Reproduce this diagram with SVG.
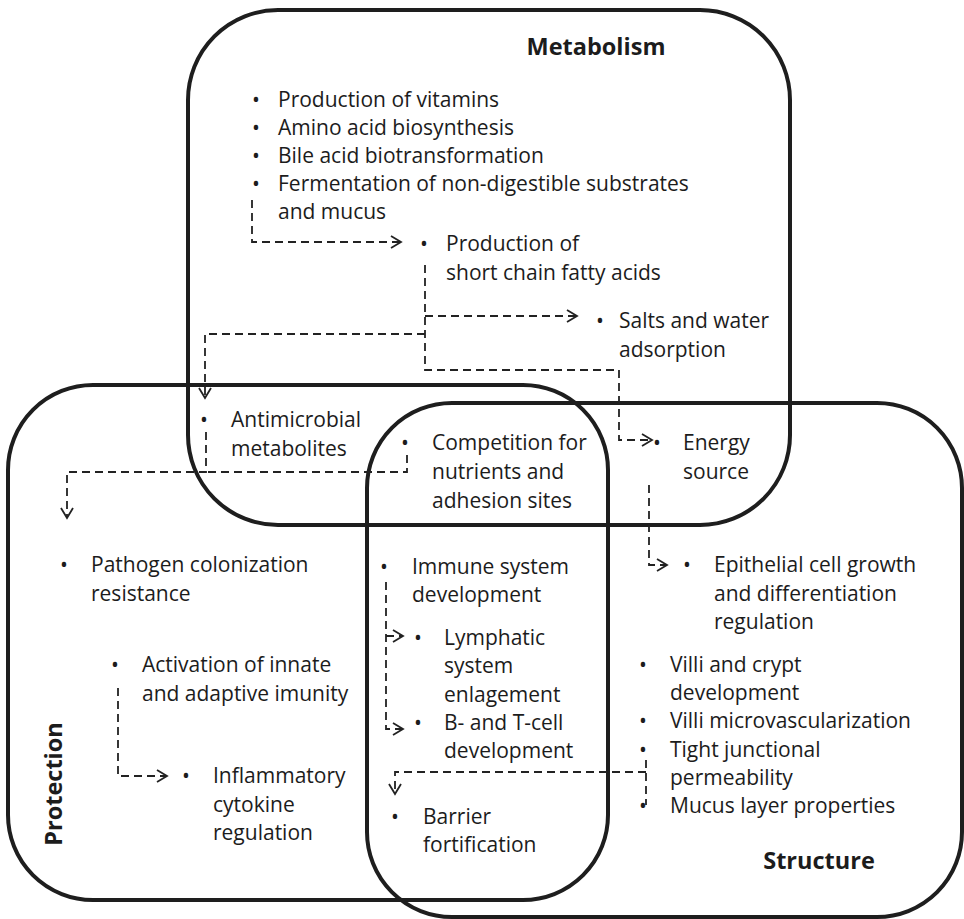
<svg xmlns="http://www.w3.org/2000/svg" width="964" height="919" viewBox="0 0 964 919">
<style>
.box{fill:none;stroke:#1e1e1e;stroke-width:4}
.t{font-family:"Open Sans","Liberation Sans",sans-serif;font-size:21px;fill:#1c1c1c}
.h{font-family:"Open Sans","Liberation Sans",sans-serif;font-size:23.5px;font-weight:bold;fill:#1c1c1c}
.c{fill:none;stroke:#222;stroke-width:1.8;stroke-dasharray:8 5}
</style>
<defs>
<marker id="arr" markerUnits="userSpaceOnUse" markerWidth="24" markerHeight="24" viewBox="-12 -12 24 24" refX="0" refY="0" orient="auto">
<path d="M-10,-6 L0,0 L-10,6" fill="none" stroke="#222" stroke-width="1.8"/>
</marker>
</defs>
<rect width="964" height="919" fill="#fff"/>
<g id="metabolism">
<rect class="box" x="188" y="10" width="602" height="515" rx="90"/>
<text class="h" x="596" y="55" text-anchor="middle">Metabolism</text>
</g>
<g id="protection">
<rect class="box" x="8" y="385" width="600" height="515" rx="85"/>
<text class="h" transform="translate(62,784) rotate(-90)" text-anchor="middle">Protection</text>
</g>
<g id="structure">
<rect class="box" x="367" y="403" width="595" height="514" rx="85"/>
<text class="h" x="819" y="869" text-anchor="middle">Structure</text>
</g>
<g id="metabolism-items" class="t">
<text x="252" y="107">•</text><text x="278" y="107">Production of vitamins</text>
<text x="252" y="135">•</text><text x="278" y="135">Amino acid biosynthesis</text>
<text x="252" y="163">•</text><text x="278" y="163">Bile acid biotransformation</text>
<text x="252" y="191">•</text><text x="278" y="191">Fermentation of non-digestible substrates</text>
<text x="278" y="219">and mucus</text>
</g>
<g id="scfa" class="t">
<text x="420" y="251">•</text><text x="446" y="251">Production of</text>
<text x="446" y="280">short chain fatty acids</text>
</g>
<g id="salts" class="t">
<text x="596" y="328">•</text><text x="619" y="328">Salts and water</text>
<text x="619" y="357">adsorption</text>
</g>
<g id="antimicrobial" class="t">
<text x="200" y="427">•</text><text x="231" y="427">Antimicrobial</text>
<text x="231" y="456">metabolites</text>
</g>
<g id="competition" class="t">
<text x="401" y="450">•</text><text x="432" y="450">Competition for</text>
<text x="432" y="479">nutrients and</text>
<text x="432" y="508">adhesion sites</text>
</g>
<g id="energy" class="t">
<text x="653" y="450">•</text><text x="683" y="450">Energy</text>
<text x="683" y="479">source</text>
</g>
<g id="pathogen" class="t">
<text x="60" y="572">•</text><text x="91" y="572">Pathogen colonization</text>
<text x="91" y="601">resistance</text>
</g>
<g id="immune" class="t">
<text x="380" y="574">•</text><text x="412" y="574">Immune system</text>
<text x="412" y="602">development</text>
</g>
<g id="epithelial" class="t">
<text x="683" y="572">•</text><text x="714" y="572">Epithelial cell growth</text>
<text x="714" y="601">and differentiation</text>
<text x="714" y="629">regulation</text>
</g>
<g id="lymphatic" class="t">
<text x="414" y="645">•</text><text x="444" y="645">Lymphatic</text>
<text x="444" y="673">system</text>
<text x="444" y="702">enlagement</text>
</g>
<g id="activation" class="t">
<text x="111" y="672">•</text><text x="142" y="672">Activation of innate</text>
<text x="142" y="701">and adaptive imunity</text>
</g>
<g id="villi" class="t">
<text x="639" y="672">•</text><text x="670" y="672">Villi and crypt</text>
<text x="670" y="700">development</text>
<text x="639" y="728">•</text><text x="670" y="728">Villi microvascularization</text>
<text x="639" y="757">•</text><text x="670" y="757">Tight junctional</text>
<text x="670" y="785">permeability</text>
<text x="639" y="813">•</text><text x="670" y="813">Mucus layer properties</text>
</g>
<g id="bcell" class="t">
<text x="414" y="730">•</text><text x="444" y="730">B- and T-cell</text>
<text x="444" y="758">development</text>
</g>
<g id="inflammatory" class="t">
<text x="182" y="783">•</text><text x="213" y="783">Inflammatory</text>
<text x="213" y="812">cytokine</text>
<text x="213" y="840">regulation</text>
</g>
<g id="barrier" class="t">
<text x="391" y="824">•</text><text x="423" y="824">Barrier</text>
<text x="423" y="852">fortification</text>
</g>
<g id="connectors">
<path class="c" d="M252,200 V242 H401" marker-end="url(#arr)"/>
<path class="c" d="M425,265 V370 H619 V440 H652" marker-end="url(#arr)"/>
<path class="c" d="M425,316 H577" marker-end="url(#arr)"/>
<path class="c" d="M425,334 H205 V398" marker-end="url(#arr)"/>
<path class="c" d="M206,432 V472 H67 V518" marker-end="url(#arr)"/>
<path class="c" d="M407,455 V472 H206"/>
<path class="c" d="M386,582 V729 H403" marker-end="url(#arr)"/>
<path class="c" d="M386,636 H403" marker-end="url(#arr)"/>
<path class="c" d="M646,760 V805"/>
<path class="c" d="M646,772 H395 V794" marker-end="url(#arr)"/>
<path class="c" d="M118,688 V776 H167" marker-end="url(#arr)"/>
<path class="c" d="M649,485 V565 H667" marker-end="url(#arr)"/>
</g>
</svg>
